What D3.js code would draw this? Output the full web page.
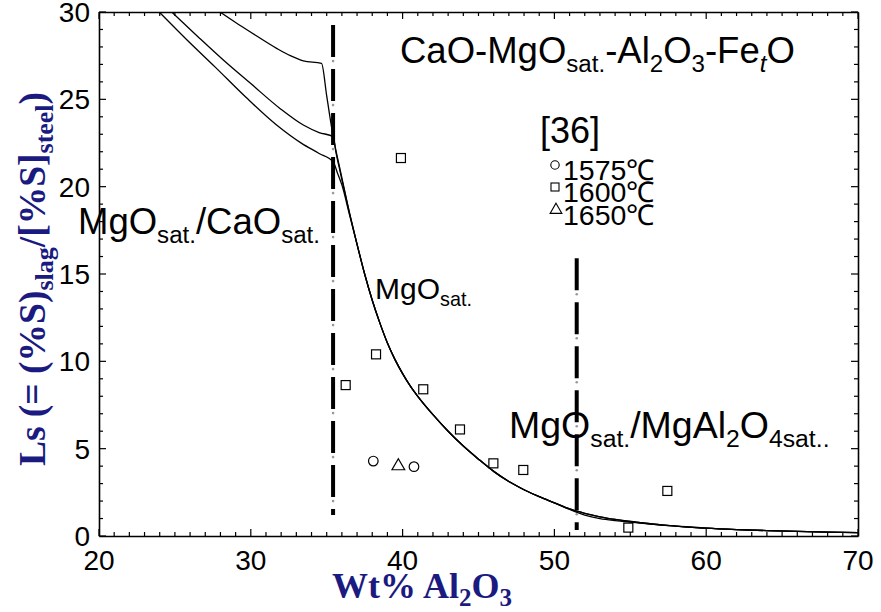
<!DOCTYPE html>
<html>
<head>
<meta charset="utf-8">
<script src="https://cdn.jsdelivr.net/npm/d3@7/dist/d3.min.js"></script>
<style>
  html, body { margin: 0; padding: 0; background: #fff; }
</style>
</head>
<body>
<svg id="chart" width="881" height="612" font-family="'Liberation Sans', Arial, sans-serif"></svg>
<script>
// Sulphide partition ratio Ls vs Al2O3 content (CaO-MgO-Al2O3-FetO slags)
const xTicks = [20, 30, 40, 50, 60, 70];
const yTicks = [0, 5, 10, 15, 20, 25, 30];

// Calculated iso-curves: [Al2O3 wt%, Ls]
const curveA = [
  [27.97, 30], [29.0, 29.4], [29.95, 28.87], [31.7, 27.92], [32.6, 27.5],
  [33.46, 27.2], [34.66, 27.06], [35.0, 25.2], [35.4, 23.0], [35.6, 22.1],
  [35.8, 21.3], [36.0, 20.5], [36.5, 18.5], [37.0, 16.7], [37.5, 15.0],
  [38.0, 13.5], [38.5, 12.2], [39.0, 11.05], [39.5, 10.1], [40.0, 9.3],
  [40.5, 8.6], [41.0, 8.0], [42.0, 6.95], [43.0, 6.0], [44.0, 5.15],
  [45.0, 4.4], [46.0, 3.7], [47.0, 3.12], [48.0, 2.65], [49.0, 2.25],
  [50.0, 1.9], [51.0, 1.55], [52.0, 1.3], [53.0, 1.1], [54.0, 0.95],
  [55.0, 0.83], [56.0, 0.73], [57.0, 0.64], [58.0, 0.57], [60.0, 0.45],
  [62.0, 0.37], [64.0, 0.31], [66.0, 0.26], [68.0, 0.22], [70.0, 0.19]
];
const curveB = [
  [24.79, 30], [26.5, 28.6], [28.19, 27.25], [30.0, 25.9], [31.92, 24.48],
  [33.46, 23.53], [34.5, 23.1], [35.44, 22.86], [35.6, 22.0],
  [35.8, 21.2], [36.0, 20.4], [36.5, 18.5], [37.0, 16.7], [37.5, 15.0],
  [38.0, 13.5], [38.5, 12.2], [39.0, 11.05], [39.5, 10.1], [40.0, 9.3],
  [40.5, 8.6], [41.0, 8.0], [42.0, 6.95], [43.0, 6.0], [44.0, 5.15],
  [45.0, 4.4], [46.0, 3.7], [47.0, 3.12], [48.0, 2.65], [49.0, 2.25],
  [50.0, 1.9], [51.0, 1.55], [52.0, 1.3], [53.0, 1.1], [54.0, 0.95],
  [55.0, 0.83], [56.0, 0.73], [57.0, 0.64], [58.0, 0.57], [60.0, 0.45],
  [62.0, 0.37], [64.0, 0.31], [66.0, 0.26], [68.0, 0.22], [70.0, 0.19]
];
const curveC = [
  [23.97, 30], [25.8, 28.4], [27.64, 26.86], [29.7, 25.1], [31.7, 23.53],
  [33.35, 22.48], [34.5, 21.9], [35.44, 21.4], [35.7, 20.8],
  [36.0, 20.1], [36.5, 18.4], [37.0, 16.7], [37.5, 15.0],
  [38.0, 13.5], [38.5, 12.2], [39.0, 11.05], [39.5, 10.1], [40.0, 9.3],
  [40.5, 8.6], [41.0, 8.0], [42.0, 6.95], [43.0, 6.0], [44.0, 5.15],
  [45.0, 4.4], [46.0, 3.7], [47.0, 3.12], [48.0, 2.65], [49.0, 2.25],
  [50.0, 1.9], [51.0, 1.52], [52.0, 1.2], [53.0, 1.0], [54.0, 0.88],
  [55.0, 0.79], [56.0, 0.71], [57.0, 0.63], [58.0, 0.57], [60.0, 0.45],
  [62.0, 0.37], [64.0, 0.31], [66.0, 0.26], [68.0, 0.22], [70.0, 0.19]
];

// Measured data points [36]
const pts1575 = [[38.07, 4.29], [40.75, 3.97]];
const pts1600 = [
  [39.89, 21.64], [38.25, 10.4], [36.25, 8.64], [41.36, 8.4], [43.78, 6.1],
  [45.98, 4.16], [47.95, 3.78], [57.44, 2.58], [54.87, 0.48]
];
const pts1650 = [[39.72, 4.06]];

// Phase boundaries: [Al2O3, Ls top, Ls bottom]
const boundaries = [[35.42, 29.25, 1.2], [51.47, 15.9, 0.35]];

const svg = d3.select("#chart");
const m = { left: 99, right: 858, top: 12, bottom: 536 };
const x = d3.scaleLinear().domain([20, 70]).range([m.left, m.right]);
const y = d3.scaleLinear().domain([0, 30]).range([m.bottom, m.top]);

const minorX = d3.range(20, 71, 1);
const minorY = d3.range(0, 31, 1);

// Frame: axis domains on all four sides, ticks drawn inward
const axes = [
  svg.append("g").attr("transform", `translate(0,${m.bottom})`).call(d3.axisBottom(x).tickValues([]).tickSizeOuter(0)),
  svg.append("g").attr("transform", `translate(0,${m.top})`).call(d3.axisTop(x).tickValues([]).tickSizeOuter(0)),
  svg.append("g").attr("transform", `translate(${m.left},0)`).call(d3.axisLeft(y).tickValues([]).tickSizeOuter(0)),
  svg.append("g").attr("transform", `translate(${m.right},0)`).call(d3.axisRight(y).tickValues([]).tickSizeOuter(0))
];
axes.forEach(g => g.select(".domain").attr("stroke", "#000").attr("stroke-width", 1.6));

function tickLen(v, step) { return v % step === 0 ? 7 : 4; }
const tickG = svg.append("g").attr("stroke", "#000").attr("stroke-width", 1.2);
minorX.forEach(v => {
  const L = tickLen(v, 10);
  tickG.append("line").attr("x1", x(v)).attr("x2", x(v)).attr("y1", m.bottom).attr("y2", m.bottom - L);
  tickG.append("line").attr("x1", x(v)).attr("x2", x(v)).attr("y1", m.top).attr("y2", m.top + L);
});
minorY.forEach(v => {
  const L = tickLen(v, 5);
  tickG.append("line").attr("y1", y(v)).attr("y2", y(v)).attr("x1", m.left).attr("x2", m.left + L);
  tickG.append("line").attr("y1", y(v)).attr("y2", y(v)).attr("x1", m.right).attr("x2", m.right - L);
});

// Tick labels
svg.append("g").selectAll("text").data(xTicks).join("text")
  .attr("x", d => x(d)).attr("y", 570).attr("text-anchor", "middle")
  .attr("font-size", 28).text(d => d);
svg.append("g").selectAll("text").data(yTicks).join("text")
  .attr("x", 90).attr("y", d => y(d) + 10).attr("text-anchor", "end")
  .attr("font-size", 28).text(d => d);

// Curves
const line = d3.line().x(d => x(d[0])).y(d => y(d[1])).curve(d3.curveMonotoneX);
svg.append("clipPath").attr("id", "clip").append("rect")
  .attr("x", m.left).attr("y", m.top).attr("width", m.right - m.left).attr("height", m.bottom - m.top);
const curves = svg.append("g").attr("clip-path", "url(#clip)");
[curveA, curveB, curveC].forEach(c => {
  curves.append("path").datum(c).attr("d", line)
    .attr("fill", "none").attr("stroke", "#000").attr("stroke-width", 1.3);
});

// Phase boundary lines (thick dashes, grey dots in the gaps)
boundaries.forEach(([bx, yt, yb]) => {
  const x0 = x(bx), y0 = y(yt), y1 = y(yb);
  svg.append("line").attr("x1", x0).attr("x2", x0).attr("y1", y0).attr("y2", y1)
    .attr("stroke", "#000").attr("stroke-width", 4).attr("stroke-dasharray", "32 12");
  for (let p = y0 + 36; p < y1; p += 44) {
    svg.append("circle").attr("cx", x0).attr("cy", p).attr("r", 1.3).attr("fill", "#999");
  }
});

// Data markers
const mk = svg.append("g").attr("fill", "none").attr("stroke", "#000").attr("stroke-width", 1.2);
mk.selectAll("rect").data(pts1600).join("rect")
  .attr("x", d => x(d[0]) - 4.5).attr("y", d => y(d[1]) - 4.5)
  .attr("width", 9).attr("height", 9);
mk.selectAll("circle").data(pts1575).join("circle")
  .attr("cx", d => x(d[0])).attr("cy", d => y(d[1])).attr("r", 4.8);
const tri = d3.symbol().type(d3.symbolTriangle).size(70);
mk.selectAll("path").data(pts1650).join("path")
  .attr("transform", d => `translate(${x(d[0])},${y(d[1]) + 1})`).attr("d", tri);

// Legend
svg.append("text").attr("x", 540).attr("y", 143).attr("font-size", 36).text("[36]");
const legend = [["circle", "1575℃", 165], ["rect", "1600℃", 187], ["tri", "1650℃", 210]];
legend.forEach(([t, label, cy]) => {
  if (t === "circle") svg.append("circle").attr("cx", 555).attr("cy", cy).attr("r", 4.2)
    .attr("fill", "none").attr("stroke", "#000").attr("stroke-width", 1.1);
  if (t === "rect") svg.append("rect").attr("x", 551).attr("y", cy - 4).attr("width", 8).attr("height", 8)
    .attr("fill", "none").attr("stroke", "#000").attr("stroke-width", 1.1);
  if (t === "tri") svg.append("path").attr("transform", `translate(556,${cy})`)
    .attr("d", d3.symbol().type(d3.symbolTriangle).size(60))
    .attr("fill", "none").attr("stroke", "#000").attr("stroke-width", 1.1);
  svg.append("text").attr("x", 563).attr("y", cy + 4 + 0.38 * 28).attr("font-size", 28.5).text(label);
});

// Text with subscript runs: parts = [[text, "n"|"sub"|"subit"], ...]
function rich(xp, yp, size, parts) {
  const t = svg.append("text").attr("x", xp).attr("y", yp).attr("font-size", size);
  let shift = 0;
  const sd = Math.round(size * 0.24);
  parts.forEach(([s, k]) => {
    const ts = t.append("tspan").text(s);
    if (k === "sub" || k === "subit") {
      ts.attr("font-size", size * 0.66).attr("dy", sd - shift); shift = sd;
      if (k === "subit") ts.attr("font-style", "italic");
    } else {
      ts.attr("dy", -shift); shift = 0;
    }
  });
  return t;
}

rich(400, 63, 36.5, [["CaO-MgO", "n"], ["sat.", "sub"], ["-Al", "n"], ["2", "sub"], ["O", "n"], ["3", "sub"], ["-Fe", "n"], ["t", "subit"], ["O", "n"]]);
rich(78, 234, 36.5, [["MgO", "n"], ["sat.", "sub"], ["/CaO", "n"], ["sat.", "sub"]]);
rich(375, 299, 30, [["MgO", "n"], ["sat.", "sub"]]);
rich(509, 438, 37.5, [["MgO", "n"], ["sat.", "sub"], ["/MgAl", "n"], ["2", "sub"], ["O", "n"], ["4sat..", "sub"]]);

// Axis titles
const navy = "#1a1a80";
const serif = "'Liberation Serif', 'Times New Roman', serif";
const xt = svg.append("text").attr("x", 422).attr("y", 598).attr("text-anchor", "middle")
  .style("font-family", serif).attr("font-weight", "bold").attr("font-size", 36).attr("fill", navy);
xt.append("tspan").text("Wt% Al");
xt.append("tspan").text("2").attr("font-size", 25).attr("dy", 8);
xt.append("tspan").text("O").attr("dy", -8);
xt.append("tspan").text("3").attr("font-size", 25).attr("dy", 8);

const yt = svg.append("text").attr("transform", "translate(45,279) rotate(-90)")
  .attr("text-anchor", "middle")
  .style("font-family", serif).attr("font-weight", "bold").attr("font-size", 37.5).attr("fill", navy);
yt.append("tspan").text("Ls (= (%S)");
yt.append("tspan").text("slag").attr("font-size", 26).attr("dy", 8);
yt.append("tspan").text("/[%S]").attr("dy", -8);
yt.append("tspan").text("steel").attr("font-size", 26).attr("dy", 8);
yt.append("tspan").text(")").attr("dy", -8);
</script>
</body>
</html>
